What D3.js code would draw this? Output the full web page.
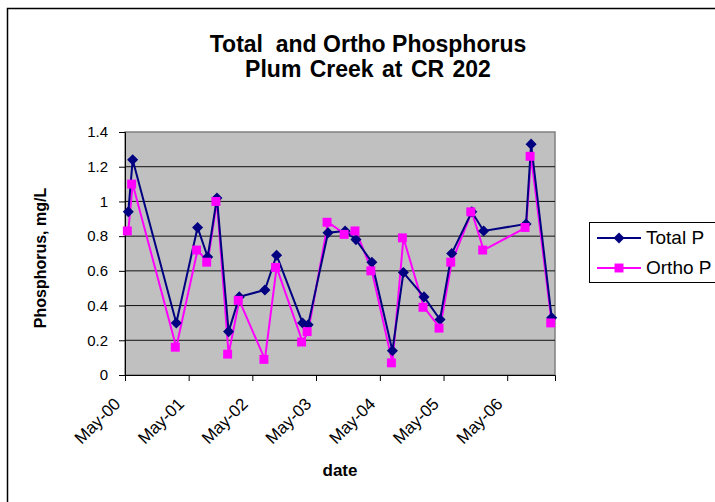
<!DOCTYPE html>
<html>
<head>
<meta charset="utf-8">
<script src="https://cdn.jsdelivr.net/npm/d3@7"></script>
<style>
body { margin: 0; background: #fff; }
svg text { font-family: "Liberation Sans", Arial, sans-serif; }
</style>
</head>
<body>
<div id="chart"></div>
<script>
// sample dates and values
var dates = ["2000-05-20", "2000-06-14", "2001-02-19", "2001-06-21", "2001-08-18", "2001-10-10",
    "2001-12-16", "2002-02-15", "2002-07-12", "2002-09-17", "2003-02-13", "2003-03-17",
    "2003-07-09", "2003-10-15", "2003-12-16", "2004-03-16", "2004-07-12", "2004-09-13",
    "2005-01-09", "2005-04-11", "2005-06-17", "2005-10-10", "2005-12-17", "2006-08-17",
    "2006-09-15", "2007-01-11"]
var totalP = [0.94, 1.24, 0.30, 0.85, 0.68, 1.02, 0.25, 0.45, 0.49, 0.69, 0.30, 0.29,
    0.82, 0.83, 0.78, 0.65, 0.14, 0.59, 0.45, 0.32, 0.70, 0.94, 0.83, 0.87, 1.33, 0.33]
var orthoP = [0.83, 1.10, 0.16, 0.72, 0.65, 1.00, 0.12, 0.43, 0.09, 0.62, 0.19, 0.25,
    0.88, 0.81, 0.83, 0.60, 0.07, 0.79, 0.39, 0.27, 0.65, 0.94, 0.72, 0.85, 1.26, 0.30]
var yTicks = [0, 0.2, 0.4, 0.6, 0.8, 1, 1.2, 1.4]
var xTickDates = ["2000-05-01", "2001-05-01", "2002-05-01", "2003-05-01", "2004-05-01", "2005-05-01", "2006-05-01"]
var seriesNames = ["Total P", "Ortho P"]

var parse = d3.timeParse("%Y-%m-%d")

var svg = d3.select("#chart")
    .append("svg")
    .attr("width", 715)
    .attr("height", 502)

// outer chart frame (runs past the picture on the right and bottom)
svg.append("rect")
    .attr("x", 7.5).attr("y", 8.5)
    .attr("width", 760).attr("height", 560)
    .attr("fill", "white")
    .attr("stroke", "black")
    .attr("stroke-width", 1.5)

// plot area edges (named so they don't clash with window.top)
var plotL = 125, plotT = 132, plotR = 555, plotB = 375

var x = d3.scaleTime()
    .domain([parse("2000-05-01"), parse("2007-01-30")])
    .range([plotL, plotR])

var y = d3.scaleLinear()
    .domain([0, 1.4])
    .range([plotB, plotT])

// plot area
svg.append("rect")
    .attr("x", plotL).attr("y", plotT)
    .attr("width", plotR - plotL).attr("height", plotB - plotT)
    .attr("fill", "#c0c0c0")
    .attr("stroke", "#808080")
    .attr("stroke-width", 1.5)

// grid lines
svg.selectAll("line.grid")
    .data(yTicks.slice(1, -1))
    .enter()
    .append("line")
    .attr("class", "grid")
    .attr("x1", plotL).attr("x2", plotR)
    .attr("y1", d => y(d)).attr("y2", d => y(d))
    .attr("stroke", "#111")
    .attr("stroke-width", 1)

// y axis
var yAxis = svg.append("g")
    .attr("transform", "translate(" + plotL + ",0)")
    .call(d3.axisLeft(y).tickValues(yTicks).tickSize(6).tickPadding(11).tickFormat(d3.format("~g")))
yAxis.select(".domain").attr("stroke", "black")
yAxis.selectAll("text").attr("font-size", "15px").attr("fill", "black")
    .attr("font-family", "Liberation Sans, Arial, sans-serif")

// x axis
var xAxis = svg.append("g")
    .attr("transform", "translate(0," + plotB + ")")
    .call(d3.axisBottom(x).tickValues(xTickDates.map(parse)).tickSize(6).tickFormat(d3.timeFormat("%b-%y")))
xAxis.select(".domain").attr("stroke", "black")
xAxis.selectAll("text")
    .attr("font-size", "17px").attr("fill", "black")
    .attr("font-family", "Liberation Sans, Arial, sans-serif")
    .attr("text-anchor", "end")
    .attr("dy", null)
    .attr("y", 0)
    .attr("transform", "translate(-4,30) rotate(-45)")

var line = d3.line()
    .x((d, i) => x(parse(dates[i])))
    .y(d => y(d))

var diamond = d3.symbol().type(d3.symbolDiamond2).size(78)
var square = d3.symbol().type(d3.symbolSquare).size(80)

// ortho first so total sits on top like the original
svg.append("path")
    .attr("d", line(orthoP))
    .attr("fill", "none")
    .attr("stroke", "#ff00ff")
    .attr("stroke-width", 2)

svg.append("path")
    .attr("d", line(totalP))
    .attr("fill", "none")
    .attr("stroke", "#000080")
    .attr("stroke-width", 2)

svg.selectAll("path.total")
    .data(totalP)
    .enter()
    .append("path")
    .attr("class", "total")
    .attr("d", diamond)
    .attr("transform", (d, i) => "translate(" + x(parse(dates[i])) + "," + y(d) + ")")
    .attr("fill", "#000080")

svg.selectAll("path.ortho")
    .data(orthoP)
    .enter()
    .append("path")
    .attr("class", "ortho")
    .attr("d", square)
    .attr("transform", (d, i) => "translate(" + (x(parse(dates[i])) - 1) + "," + y(d) + ")")
    .attr("fill", "#ff00ff")

// titles
svg.append("text")
    .attr("x", 368).attr("y", 52)
    .attr("text-anchor", "middle")
    .attr("font-size", "23px").attr("font-weight", "bold")
    .style("white-space", "pre")
    .text("Total  and Ortho Phosphorus")
svg.append("text")
    .attr("x", 368).attr("y", 77)
    .attr("text-anchor", "middle")
    .attr("font-size", "23px").attr("font-weight", "bold")
    .attr("word-spacing", "2px")
    .text("Plum Creek at CR 202")

svg.append("text")
    .attr("transform", "translate(46,258) rotate(-90)")
    .attr("text-anchor", "middle")
    .attr("font-size", "16px").attr("font-weight", "bold")
    .text("Phosphorus, mg/L")

svg.append("text")
    .attr("x", 340).attr("y", 476)
    .attr("text-anchor", "middle")
    .attr("font-size", "17px").attr("font-weight", "bold")
    .text("date")

// legend
var legend = svg.append("g").attr("transform", "translate(589,222)")
legend.append("rect")
    .attr("x", 0.5).attr("y", 0.5)
    .attr("width", 140).attr("height", 60)
    .attr("fill", "white")
    .attr("stroke", "black")

var legColors = ["#000080", "#ff00ff"]
var legSymbols = [diamond, square]
seriesNames.forEach(function (name, i) {
    var ly = 16 + i * 30
    legend.append("line")
        .attr("x1", 8).attr("x2", 52)
        .attr("y1", ly).attr("y2", ly)
        .attr("stroke", legColors[i]).attr("stroke-width", 2)
    legend.append("path")
        .attr("d", legSymbols[i])
        .attr("transform", "translate(30," + ly + ")")
        .attr("fill", legColors[i])
    legend.append("text")
        .attr("x", 57).attr("y", ly + 6)
        .attr("font-size", "19px")
        .text(name)
})
</script>
</body>
</html>
